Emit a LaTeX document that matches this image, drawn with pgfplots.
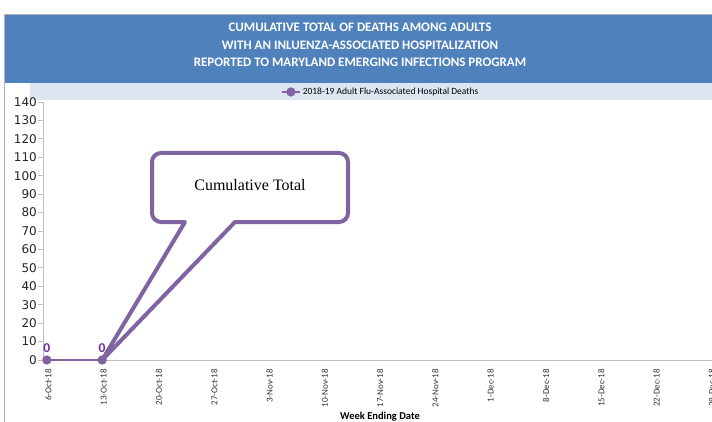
\documentclass[border=0pt]{standalone}
\usepackage{pgfplots}
\pgfplotsset{compat=1.18}
\usepackage{fontspec}
\setmainfont{Carlito}
\newfontfamily\dejavu{DejaVu Sans}
\newfontfamily\serif{Liberation Serif}
\definecolor{titleblue}{HTML}{4F81BD}
\definecolor{legblue}{HTML}{DCE6F2}
\definecolor{series}{HTML}{8064A2}
\definecolor{labpurple}{HTML}{7030A0}
\definecolor{axgray}{HTML}{BFBFBF}
\begin{document}
\begin{tikzpicture}[x=1pt,y=1pt]
\useasboundingbox (0,0) rectangle (712,421);
\clip (0,0) rectangle (712,421);
% frame and bands
\fill[white] (0,0) rectangle (712,421);
\draw[gray!60, line width=1pt] (4,-5) -- (4,406.5) -- (720,406.5);
\fill[titleblue] (4.5,338) rectangle (712,406);
\fill[legblue] (30,321) rectangle (712,338);
\node[white, font=\bfseries\fontsize{13}{17.5}\selectfont, align=center] at (360,376)
 {CUMULATIVE TOTAL OF DEATHS AMONG ADULTS\\WITH AN INLUENZA-ASSOCIATED HOSPITALIZATION\\REPORTED TO MARYLAND EMERGING INFECTIONS PROGRAM};
\begin{axis}[
  scale only axis,
  width=695pt, height=258pt,
  at={(43pt,61pt)}, anchor=south west,
  xmin=-0.07, xmax=12.5,
  ymin=0, ymax=140,
  axis x line=bottom, axis y line=left,
  axis line style={-, draw=axgray, line width=1pt},
  ytick={0,10,...,140},
  ytick style={draw=axgray, line width=0.8pt},
  tick align=outside,
  major tick length=5pt,
  xtick={0,...,12},
  xtick style={draw=none},
  xticklabels={6-Oct-18,13-Oct-18,20-Oct-18,27-Oct-18,3-Nov-18,10-Nov-18,17-Nov-18,24-Nov-18,1-Dec-18,8-Dec-18,15-Dec-18,22-Dec-18,29-Dec-18},
  xticklabel style={rotate=90, anchor=east, font=\fontsize{9}{10}\selectfont, text=black!80, inner sep=1pt, xshift=-3pt, yshift=-1.5pt},
  yticklabel style={font=\dejavu\fontsize{12}{12}\selectfont, text=black!85, inner sep=1pt},
  /pgf/number format/assume math mode=true,
  legend style={at={(0.486,1.039)}, anchor=center, draw=none, fill=none,
     font=\fontsize{9.5}{10}\selectfont, inner sep=0pt},
  clip=false,
]
\addplot[color=series, line width=2.5pt, mark=*, mark size=3.3pt,
  mark options={fill=series, draw=series},
  nodes near coords,
  every node near coord/.append style={font=\bfseries\fontsize{13.5}{13.5}\selectfont, text=labpurple, anchor=south, yshift=3pt}]
  coordinates {(0,0) (1,0)};
\addlegendentry{2018-19 Adult Flu-Associated Hospital Deaths}
\coordinate (tip) at (axis cs:1,0);
\end{axis}
% callout
\draw[series, line width=4pt, fill=white, line join=round]
  (185,199) -- (tip) -- (235,199)
  [rounded corners=9pt] -- (348,199) -- (348,268) -- (152,268) -- (152,199) [sharp corners]-- cycle;
\node[font=\serif\fontsize{16}{18}\selectfont] at (250,236) {Cumulative Total};
\node[font=\bfseries\fontsize{10.5}{11}\selectfont] at (380,4) {Week Ending Date};
\end{tikzpicture}
\end{document}
